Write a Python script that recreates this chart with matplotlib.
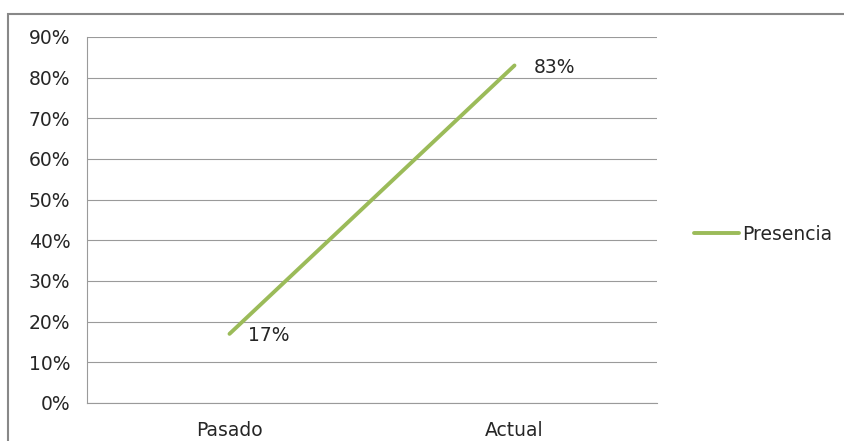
import matplotlib.pyplot as plt
from matplotlib.patches import Rectangle

categories = ["Pasado", "Actual"]
presencia = [17, 83]
labels = ["17%", "83%"]

fs = 13.5
txt = "#262626"

fig = plt.figure(figsize=(8.45, 4.41), dpi=100)
ax = fig.add_axes([87/845, 1-403/441, 570/845, 366/441])

x = range(len(categories))
line, = ax.plot(x, presencia, color="#9BBB59", lw=2.8, solid_capstyle="round", label="Presencia")

ax.set_xlim(-0.5, 1.5)
ax.set_ylim(0, 90)
ax.set_yticks(range(0, 91, 10))
ax.set_yticklabels([f"{v}%" for v in range(0, 91, 10)])
ax.set_xticks(list(x))
ax.set_xticklabels(categories)
ax.yaxis.grid(True, color="#9a9a9a", lw=0.8)
ax.set_axisbelow(True)
for s in ["top", "right"]:
    ax.spines[s].set_visible(False)
for s in ["left", "bottom"]:
    ax.spines[s].set_color("#9a9a9a")
    ax.spines[s].set_linewidth(0.8)
ax.tick_params(axis="both", length=0, labelsize=fs, colors=txt)
ax.tick_params(axis="y", pad=12)
ax.tick_params(axis="x", pad=13)

ax.annotate(labels[0], (0, presencia[0]), xytext=(19, -2), textcoords="offset pixels",
            fontsize=fs, color=txt, va="center")
ax.annotate(labels[1], (1, presencia[1]), xytext=(19, -2), textcoords="offset pixels",
            fontsize=fs, color=txt, va="center")

fig.legend(handles=[line], loc="center left", bbox_to_anchor=(677/845, 1-234/441),
           frameon=False, fontsize=fs, handlelength=2.4, handletextpad=0.15,
           labelcolor=txt)

fig.patches.append(Rectangle((8/845, -0.1), 1.0, 1-14/441+0.1, transform=fig.transFigure,
                             fill=False, edgecolor="#888888", lw=1.5))

fig.savefig("out.png", dpi=100)
